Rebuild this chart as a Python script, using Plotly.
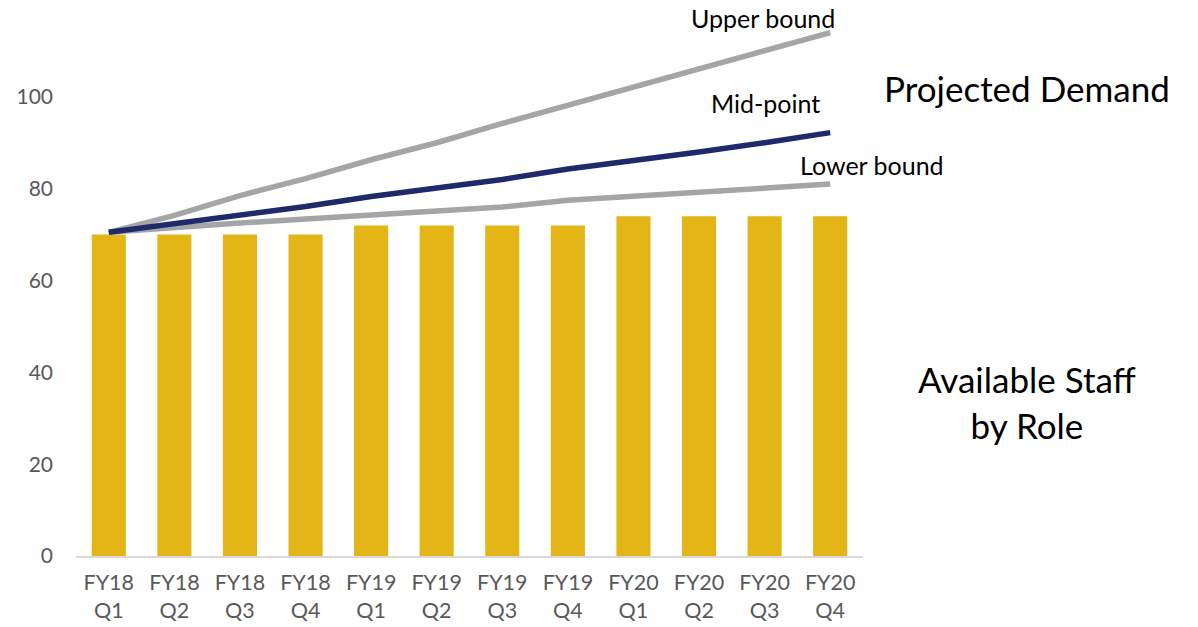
import plotly.graph_objects as go

categories = ["FY18<br>Q1", "FY18<br>Q2", "FY18<br>Q3", "FY18<br>Q4",
              "FY19<br>Q1", "FY19<br>Q2", "FY19<br>Q3", "FY19<br>Q4",
              "FY20<br>Q1", "FY20<br>Q2", "FY20<br>Q3", "FY20<br>Q4"]
available_staff = [70, 70, 70, 70, 72, 72, 72, 72, 74, 74, 74, 74]
upper_bound = [70.5, 74.2, 78.5, 82.2, 86.3, 90.0, 94.2, 98.2, 102.0, 106.3, 110.0, 114.0]
mid_point = [70.5, 72.3, 74.2, 76.1, 78.3, 80.1, 82.0, 84.3, 86.1, 88.0, 90.0, 92.2]
lower_bound = [70.5, 71.6, 72.5, 73.4, 74.3, 75.1, 76.0, 77.5, 78.3, 79.2, 80.1, 81.0]

FONT = "Lato, 'Open Sans', sans-serif"
GOLD = "#E3B516"
GRAY = "#A5A5A5"
NAVY = "#1F2A6B"

fig = go.Figure()
fig.add_trace(go.Bar(x=categories, y=available_staff, marker=dict(color=GOLD, line=dict(width=0)),
                     width=0.52, name="Available Staff"))
fig.add_trace(go.Scatter(x=categories, y=lower_bound, mode="lines",
                         line=dict(color=GRAY, width=5.5), name="Lower bound"))
fig.add_trace(go.Scatter(x=categories, y=upper_bound, mode="lines",
                         line=dict(color=GRAY, width=5.5), name="Upper bound"))
fig.add_trace(go.Scatter(x=categories, y=mid_point, mode="lines",
                         line=dict(color=NAVY, width=5.5), name="Mid-point"))

annotations = [
    dict(text="Upper bound", x=(763 - 76) / 787, y=(556 - 18) / 551),
    dict(text="Mid-point", x=(765 - 76) / 787, y=(556 - 103) / 551),
    dict(text="Lower bound", x=(872 - 76) / 787, y=(556 - 165) / 551),
]
for a in annotations:
    fig.add_annotation(xref="paper", yref="paper", x=a["x"], y=a["y"], text=a["text"],
                       showarrow=False, xanchor="center", yanchor="middle",
                       font=dict(family=FONT, size=25, color="#000000"))
fig.add_annotation(xref="paper", yref="paper", x=(1027 - 76) / 787, y=(556 - 88) / 551,
                   text="Projected Demand", showarrow=False, xanchor="center", yanchor="middle",
                   font=dict(family=FONT, size=35, color="#000000"))
fig.add_annotation(xref="paper", yref="paper", x=(1027 - 76) / 787, y=(556 - 402) / 551,
                   text="Available Staff<br>by Role", showarrow=False, xanchor="center", yanchor="middle",
                   font=dict(family=FONT, size=35, color="#000000"))

fig.update_layout(
    width=1198, height=627,
    margin=dict(l=76, r=1198 - 863, t=5, b=71),
    paper_bgcolor="white", plot_bgcolor="white",
    showlegend=False,
    bargap=0.48,
    font=dict(family=FONT, color="#595959"),
    xaxis=dict(showgrid=False, showline=True, linecolor="#D9D9D9", linewidth=1.5,
               tickfont=dict(size=21.5, color="#595959"), ticks="", zeroline=False,
               ticklabelstandoff=6),
    yaxis=dict(range=[0, 120], tickvals=[0, 20, 40, 60, 80, 100], showgrid=False,
               showline=False, zeroline=False, ticks="", ticklabelstandoff=22,
               tickfont=dict(size=21, color="#595959")),
)

fig.write_html("out.html")
